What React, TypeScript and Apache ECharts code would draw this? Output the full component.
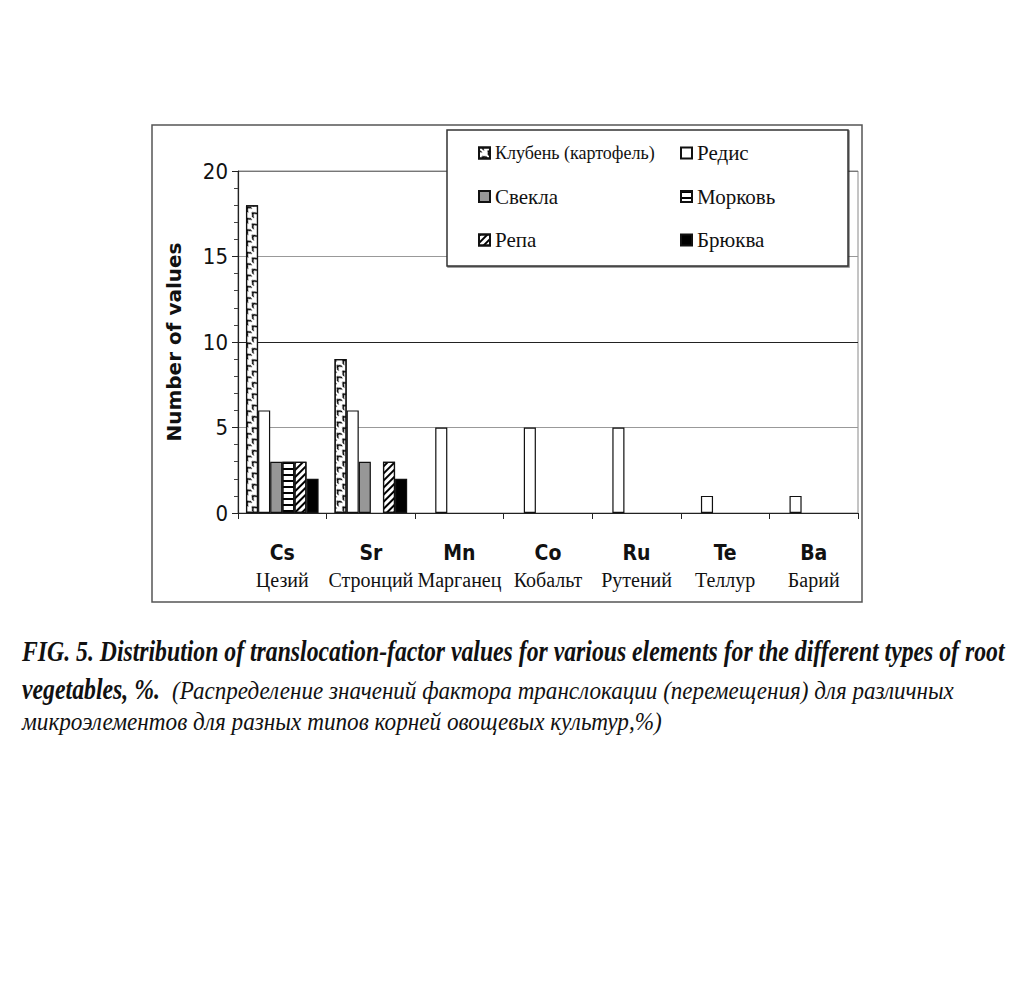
import React, { useEffect, useRef } from 'react';
import * as echarts from 'echarts';

const elements = ['Cs', 'Sr', 'Mn', 'Co', 'Ru', 'Te', 'Ba'];
const elementNamesRu = ['Цезий', 'Стронций', 'Марганец', 'Кобальт', 'Рутений', 'Теллур', 'Барий'];
const seriesNames = ['Клубень (картофель)', 'Редис', 'Свекла', 'Морковь', 'Репа', 'Брюква'];
const potato = [18, 9, 0, 0, 0, 0, 0];
const radish = [6, 6, 5, 5, 5, 1, 1];
const beet = [3, 3, 0, 0, 0, 0, 0];
const carrot = [3, 0, 0, 0, 0, 0, 0];
const turnip = [3, 3, 0, 0, 0, 0, 0];
const rutabaga = [2, 2, 0, 0, 0, 0, 0];
const yMin = 0;
const yMax = 20;
const yStep = 5;
const yAxisTitle = 'Number of values';
const captionLine1 = 'FIG. 5. Distribution of translocation-factor values for various elements for the different types of root';
const captionLine2a = 'vegetables, %.';
const captionLine2b = '(Распределение значений фактора транслокации (перемещения) для различных';
const captionLine3 = 'микроэлементов для разных типов корней овощевых культур,%)';

const seriesValues = [potato, radish, beet, carrot, turnip, rutabaga];

const styles: any[] = [
  { color: '#fff', decal: { symbol: 'path://M0,6 L5,0 L10,6 L10,10 L5,4 L0,10 Z', symbolSize: 1, dashArrayX: [8, 0], dashArrayY: [6, 1.5], rotation: -Math.PI / 4, color: '#000', backgroundColor: '#fff' } },
  { color: '#fff' },
  { color: '#979797' },
  { color: '#fff', decal: { symbol: 'rect', symbolSize: 1, dashArrayX: [1, 0], dashArrayY: [1.5, 3.5], rotation: 0, color: '#000' } },
  { color: '#fff', decal: { symbol: 'rect', symbolSize: 1, dashArrayX: [1, 0], dashArrayY: [1.5, 2.5], rotation: -Math.PI / 4, color: '#000' } },
  { color: '#000' },
];

function measure(text: string, font: string): number {
  const c = document.createElement('canvas');
  const ctx = c.getContext('2d') as CanvasRenderingContext2D;
  ctx.font = font;
  return ctx.measureText(text).width;
}

function fitText(text: string, font: string, x: number, y: number, width: number, z = 10) {
  const w = measure(text, font) || width;
  return {
    type: 'text',
    x,
    y,
    scaleX: width / w,
    z,
    style: { text, font, fill: '#111', textVerticalAlign: 'middle', textAlign: 'left' },
  };
}

const legendText = { fontFamily: 'Liberation Serif', fontSize: 21, color: '#111', lineHeight: 22 };

function legendItem(name: string) {
  return name === seriesNames[0]
    ? { name, textStyle: { ...legendText, fontSize: 18 } }
    : { name, textStyle: legendText };
}

export default function App() {
  const ref = useRef<HTMLDivElement>(null);
  useEffect(() => {
    if (!ref.current) return;
    const chart = echarts.init(ref.current, null, { renderer: 'svg' });
    const capFontBold = 'italic bold 30px "Liberation Serif"';
    const capFont = 'italic 25px "Liberation Serif"';
    const option: any = {
      animation: false,
      backgroundColor: '#fff',
      grid: { left: 238, right: 166, top: 171, bottom: 492, show: true, borderColor: '#8a8a8a', borderWidth: 1, containLabel: false },
      legend: [
        {
          data: [seriesNames[0], seriesNames[2], seriesNames[4]].map(legendItem),
          orient: 'vertical', left: 478, top: 142, padding: 0, itemWidth: 11, itemHeight: 11, itemGap: 21.5,
          icon: 'rect', selectedMode: false, z: 20,
          textStyle: legendText,
        },
        {
          data: [seriesNames[1], seriesNames[3], seriesNames[5]].map(legendItem),
          orient: 'vertical', left: 680, top: 142, padding: 0, itemWidth: 11, itemHeight: 11, itemGap: 21.5,
          icon: 'rect', selectedMode: false, z: 20,
          textStyle: legendText,
        },
      ],
      xAxis: {
        type: 'category',
        data: elements,
        axisLine: { lineStyle: { color: '#222', width: 1.2 } },
        axisTick: { show: true, length: 6, lineStyle: { color: '#222' } },
        axisLabel: {
          interval: 0,
          margin: 27,
          formatter: (v: string, i: number) => `{a|${v}}\n{b|${elementNamesRu[i]}}`,
          rich: {
            a: { fontFamily: '"Liberation Sans Narrow", "DejaVu Sans Condensed", sans-serif', fontWeight: 'bold', fontSize: 21, lineHeight: 26, color: '#111' },
            b: { fontFamily: '"Liberation Serif", serif', fontSize: 20, lineHeight: 28, color: '#111' },
          },
        },
        splitLine: { show: false },
      },
      yAxis: {
        type: 'value', min: yMin, max: yMax, interval: yStep,
        name: yAxisTitle, nameLocation: 'middle', nameGap: 54,
        nameTextStyle: { fontFamily: '"DejaVu Sans", sans-serif', fontWeight: 'bold', fontSize: 20, color: '#111' },
        axisLine: { show: true, lineStyle: { color: '#222', width: 1.2 } },
        axisTick: { show: true, length: 6, lineStyle: { color: '#222' } },
        minorTick: { show: true, splitNumber: 5, length: 4, lineStyle: { color: '#444' } },
        axisLabel: { margin: 10, fontFamily: '"Liberation Sans Narrow", "DejaVu Sans Condensed", sans-serif', fontSize: 22, color: '#111' },
        splitLine: { show: true, lineStyle: { color: ['#888', '#999', '#222', '#999', '#777'], width: 1 } },
      },
      series: seriesNames.map((name, si) => ({
        name,
        type: 'bar',
        barGap: '0%',
        barCategoryGap: '18%',
        data: seriesValues[si].map((v) => (v === 0 ? null : v)),
        itemStyle: { ...styles[si], borderColor: '#111', borderWidth: 1.2 },
        z: 5,
      })),
      graphic: [
        { type: 'rect', shape: { x: 152, y: 125, width: 710, height: 477 }, style: { fill: 'none', stroke: '#555', lineWidth: 1.5 }, z: 1 },
        { type: 'rect', shape: { x: 447, y: 130, width: 401, height: 136 }, style: { fill: '#fff', stroke: '#333', lineWidth: 1.5, shadowColor: 'rgba(0,0,0,0.5)', shadowOffsetX: 1, shadowOffsetY: 1, shadowBlur: 1 }, z: 15 },
        fitText(captionLine1, capFontBold, 22, 651, 983),
        fitText(captionLine2a, capFontBold, 22, 689, 138),
        fitText(captionLine2b, capFont, 172, 691, 783),
        fitText(captionLine3, capFont, 22, 722, 640),
      ],
    };
    chart.setOption(option);
    return () => chart.dispose();
  }, []);
  return <div ref={ref} style={{ position: 'fixed', left: 0, top: 0, width: 1024, height: 1005 }} />;
}
